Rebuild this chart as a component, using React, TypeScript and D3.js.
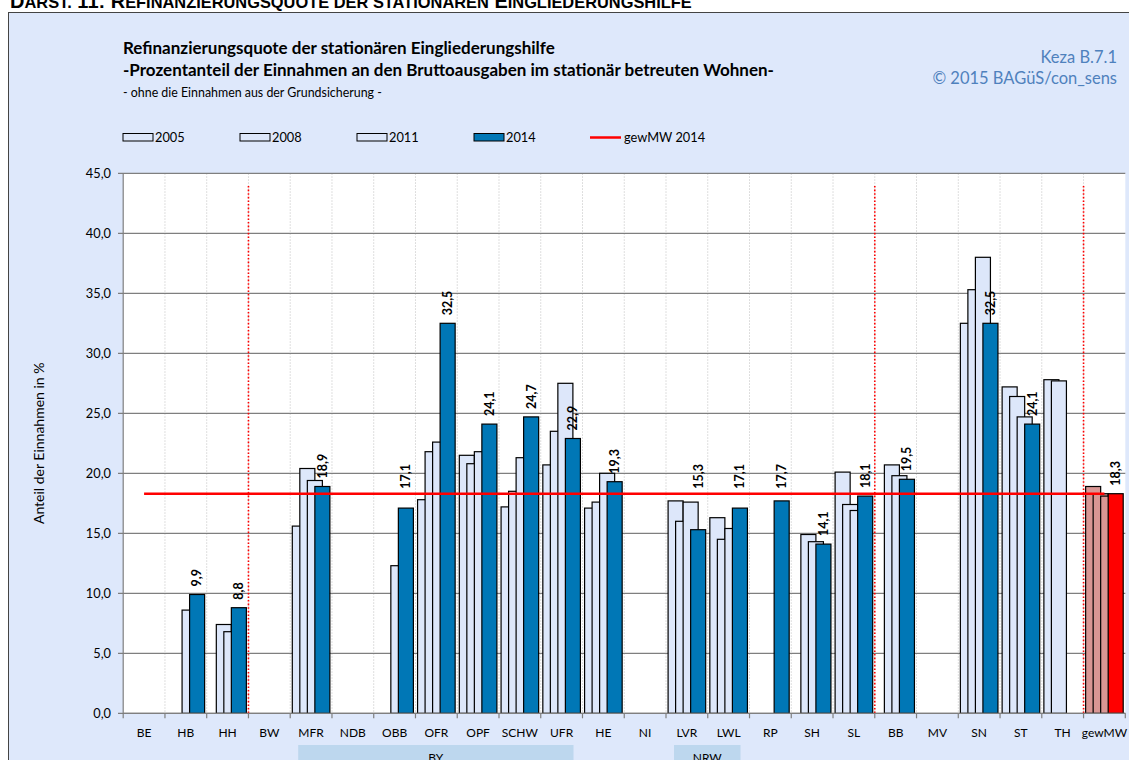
import React from "react";
import * as d3 from "d3";

// categories (Kostenträger) and refinancing quotas in % per year
const categories = ["BE", "HB", "HH", "BW", "MFR", "NDB", "OBB", "OFR", "OPF", "SCHW", "UFR", "HE", "NI", "LVR", "LWL", "RP", "SH", "SL", "BB", "MV", "SN", "ST", "TH", "gewMW"];
const years = ["2005", "2008", "2011", "2014"];

const values2005 = [null, null, null, null, 15.6, null, null, 17.8, 21.5, 17.2, 20.7, 17.1, null, 17.7, 16.3, null, null, 20.1, null, null, 32.5, 27.2, 27.8, 18.9];
const values2008 = [null, null, 7.4, null, 20.4, null, null, 21.8, 20.8, 18.5, 23.5, 17.6, null, 16.0, 14.5, null, 14.9, 17.4, 20.7, null, 35.3, 26.4, 27.7, 18.3];
const values2011 = [null, 8.6, 6.8, null, 19.4, null, 12.3, 22.6, 21.8, 21.3, 27.5, 20.0, null, 17.6, 15.4, null, 14.3, 16.9, 19.8, null, 38.0, 24.7, null, 18.1];
const values2014 = [null, 9.9, 8.8, null, 18.9, null, 17.1, 32.5, 24.1, 24.7, 22.9, 19.3, null, 15.3, 17.1, 17.7, 14.1, 18.1, 19.5, null, 32.5, 24.1, null, 18.3];

const meanValue = 18.3; // gewMW 2014
const yTicks = [0, 5, 10, 15, 20, 25, 30, 35, 40, 45];
const separatorsAfter = ["HH", "SL", "TH"];
const groups = [
  { name: "BY", from: "MFR", to: "UFR" },
  { name: "NRW", from: "LVR", to: "LWL" },
];

// heading words: [capital, rest] pairs rendered as small caps
const headingWords = [["D", "ARST."], ["11:", ""], ["R", "EFINANZIERUNGSQUOTE"], ["", "DER"], ["", "STATIONÄREN"], ["E", "INGLIEDERUNGSHILFE"]];

const series = [values2005, values2008, values2011, values2014];

const FONT = "Lato, 'Noto Sans', sans-serif";
const LIGHT = "#DDE7FA";
const BLUE = "#0077B6";
const ROSE = "#D99694";
const RED = "#FF0000";

const App = () => {
  const width = 1129;
  const height = 760;

  const x = d3.scaleBand().domain(categories).range([123.2, 1125.3]).padding(0);
  const y = d3.scaleLinear().domain([0, 45]).range([713.3, 173.3]);

  const cw = x.bandwidth();
  const barW = cw * 0.36;
  const barStep = cw * 0.18;
  const barStart = cw * 0.05;
  const fmt = (v) => d3.format(".1f")(v).replace(".", ",");

  const fillFor = (cat, i) => {
    if (cat === "gewMW") return i === 3 ? RED : ROSE;
    return i === 3 ? BLUE : LIGHT;
  };

  const legendX = [123, 240, 357, 474];

  return (
    <svg
      width={width}
      height={height}
      style={{ position: "absolute", left: 0, top: 0 }}
      fontFamily={FONT}
    >
      <rect x={0} y={0} width={width} height={height} fill="#fff" />
      {/* heading of the page, cut at the top */}
      <text x={10} y={7.5} fontFamily="'Liberation Sans', Arial, sans-serif" fontWeight="bold" fill="#000">
        {headingWords.map(([cap, rest], i) => (
          <React.Fragment key={i}>
            {cap && <tspan fontSize={20}>{(i > 0 ? " " : "") + cap}</tspan>}
            {rest && <tspan fontSize={16.4}>{(cap ? "" : " ") + rest}</tspan>}
          </React.Fragment>
        ))}
      </text>

      {/* frame */}
      <rect x={8.5} y={12.5} width={width + 10} height={height} fill="#DEE8FB" stroke="#444" strokeWidth={1} />

      {/* titles */}
      <text x={123} y={54} fontSize={17} fontWeight="bold" fill="#000">
        Refinanzierungsquote der stationären Eingliederungshilfe
      </text>
      <text x={123} y={76} fontSize={17} fontWeight="bold" fill="#000">
        -Prozentanteil der Einnahmen an den Bruttoausgaben im stationär betreuten Wohnen-
      </text>
      <text x={123} y={97} fontSize={12.4} fill="#000">
        - ohne die Einnahmen aus der Grundsicherung -
      </text>
      <text x={1117} y={63} fontSize={16.5} fill="#4F81BD" textAnchor="end">
        Keza B.7.1
      </text>
      <text x={1117} y={84} fontSize={16.5} fill="#4F81BD" textAnchor="end">
        © 2015 BAGüS/con_sens
      </text>

      {/* legend */}
      {years.map((yr, i) => (
        <g key={yr}>
          <rect x={legendX[i]} y={133.5} width={30} height={7.5} fill={i === 3 ? BLUE : LIGHT} stroke="#000" strokeWidth={1} />
          <text x={legendX[i] + 32} y={141.5} fontSize={12.8} fill="#000">
            {yr}
          </text>
        </g>
      ))}
      <line x1={590} x2={621} y1={137.5} y2={137.5} stroke={RED} strokeWidth={2.5} />
      <text x={624} y={141.5} fontSize={12.8} fill="#000">
        gewMW 2014
      </text>

      {/* plot area */}
      <rect x={x.range()[0]} y={y(45)} width={x.range()[1] - x.range()[0]} height={y(0) - y(45)} fill="#fff" />

      {/* vertical category gridlines */}
      {categories.slice(1).map((c) => (
        <line key={c} x1={x(c)} x2={x(c)} y1={y(45)} y2={y(0)} stroke="#D4D4D4" strokeDasharray="1.5,1.5" strokeWidth={1} />
      ))}

      {/* horizontal gridlines + y ticks */}
      {yTicks.map((t) => (
        <g key={t} transform={`translate(0, ${y(t)})`}>
          <line x1={118} x2={x.range()[1]} stroke="#7F7F7F" strokeWidth={1.2} />
          <text x={111} dy="0.35em" textAnchor="end" fontSize={12.8} fill="#000">
            {fmt(t)}
          </text>
        </g>
      ))}

      {/* y axis title */}
      <text transform={`translate(39, ${(y(0) + y(45)) / 2}) rotate(-90)`} dy="0.35em" textAnchor="middle" fontSize={14} fill="#000">
        Anteil der Einnahmen in %
      </text>

      {/* bars, later years drawn over earlier ones */}
      {series.map((vals, i) =>
        categories.map((c, j) =>
          vals[j] == null ? null : (
            <rect
              key={`${i}-${c}`}
              x={x(c) + barStart + i * barStep}
              y={y(vals[j])}
              width={barW}
              height={y(0) - y(vals[j])}
              fill={fillFor(c, i)}
              stroke="#000"
              strokeWidth={1.2}
            />
          )
        )
      )}

      {/* red dotted separators */}
      {separatorsAfter.map((c) => {
        const sx = x(c) + cw;
        return <line key={c} x1={sx} x2={sx} y1={186} y2={y(0)} stroke={RED} strokeWidth={1.6} strokeDasharray="1.6,2" />;
      })}

      {/* mean line */}
      <line
        x1={x(categories[0]) + cw / 2}
        x2={x(categories[categories.length - 1]) + cw / 2}
        y1={y(meanValue)}
        y2={y(meanValue)}
        stroke={RED}
        strokeWidth={2.5}
      />

      {/* data labels 2014 */}
      {categories.map((c, j) => {
        const v = values2014[j];
        if (v == null) return null;
        const cx = x(c) + barStart + 3 * barStep + barW / 2;
        let by = y(v) - 8;
        if (meanValue - v > 0 && meanValue - v <= 3.5) by = Math.min(by, y(meanValue) - 5);
        return (
          <text
            key={c}
            transform={`translate(${cx}, ${by}) rotate(-90)`}
            dy="0.35em"
            fontSize={12.5}
            fontWeight="bold"
            fill="#000"
          >
            {fmt(v)}
          </text>
        );
      })}

      {/* x axis */}
      <line x1={x.range()[0]} x2={x.range()[1]} y1={y(0)} y2={y(0)} stroke="#7F7F7F" strokeWidth={1.2} />
      <line x1={x.range()[0]} x2={x.range()[0]} y1={y(45)} y2={y(0)} stroke="#7F7F7F" strokeWidth={1.2} />
      {categories.concat(["_end"]).map((c, j) => {
        const tx = j < categories.length ? x(c) : x.range()[1];
        return <line key={c} x1={tx} x2={tx} y1={y(0)} y2={y(0) + 5} stroke="#7F7F7F" strokeWidth={1.2} />;
      })}
      {categories.map((c) => (
        <text key={c} x={x(c) + cw / 2} y={737} textAnchor="middle" fontSize={12} fill="#000">
          {c}
        </text>
      ))}

      {/* group boxes */}
      {groups.map((g) => {
        const gx0 = x(g.from) + 8;
        const gx1 = x(g.to) + cw - 9;
        return (
          <g key={g.name}>
            <rect x={gx0} y={745} width={gx1 - gx0} height={30} fill="#BDD7EE" />
            <text x={(gx0 + gx1) / 2} y={762} textAnchor="middle" fontSize={12} fill="#000">
              {g.name}
            </text>
          </g>
        );
      })}
    </svg>
  );
};

export default App;
